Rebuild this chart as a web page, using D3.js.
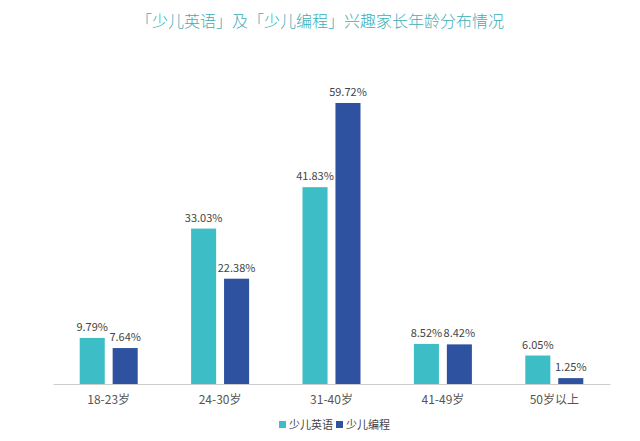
<!DOCTYPE html>
<html><head><meta charset="utf-8">
<script src="https://cdn.jsdelivr.net/npm/d3@7"></script>
<style>body{margin:0;background:#fff;font-family:"Noto Sans CJK SC","Noto Sans",sans-serif;}</style>
</head><body><div id="chart"></div>
<script>
// age groups and shares for the two interest groups
const categories = ["18-23岁", "24-30岁", "31-40岁", "41-49岁", "50岁以上"];
const english = [9.79, 33.03, 41.83, 8.52, 6.05];
const coding = [7.64, 22.38, 59.72, 8.42, 1.25];
const seriesNames = ["少儿英语", "少儿编程"];
const colors = ["#3dbdc6", "#2e52a0"];

const w = 640, h = 441;
const margin = {left: 53, right: 30, top: 103, bottom: 57};

const svg = d3.select("#chart").append("svg")
	.attr("width", w).attr("height", h);

// title
svg.append("text")
	.attr("x", w/2).attr("y", 27)
	.attr("text-anchor", "middle")
	.style("font-size", "16px")
	.style("font-weight", 300)
	.style("fill", "#3aaeb8")
	.text("「少儿英语」及「少儿编程」兴趣家长年龄分布情况");

const x = d3.scaleBand().domain(categories)
	.range([margin.left, w - margin.right]);
const bw = x.bandwidth();
const xs = d3.scaleBand().domain([0, 1])
	.range([bw/2 - 29, bw/2 + 29]).paddingInner(0.24).paddingOuter(0);
const y = d3.scaleLinear().domain([0, 59.72])
	.range([h - margin.bottom, margin.top]);

const rows = categories.map((c, i) => ({c, v: [english[i], coding[i]]}));

const g = svg.append("g").selectAll("g").data(rows).join("g")
	.attr("transform", d => `translate(${x(d.c)},0)`);

g.selectAll("rect").data(d => d.v).join("rect")
	.attr("x", (d, i) => xs(i))
	.attr("y", d => y(d))
	.attr("width", xs.bandwidth())
	.attr("height", d => y(0) - y(d))
	.attr("fill", (d, i) => colors[i]);

g.selectAll("text").data(d => d.v).join("text")
	.attr("x", (d, i) => xs(i) + xs.bandwidth()/2)
	.attr("y", d => y(d) - 7)
	.attr("text-anchor", "middle")
	.style("font-size", "11px")
	.style("fill", "#444")
	.text(d => d.toFixed(2) + "%");

// x axis
const xAxis = svg.append("g")
	.attr("transform", `translate(0,${y(0)})`)
	.call(d3.axisBottom(x).tickSize(0).tickPadding(11));
xAxis.select(".domain").attr("stroke", "#ccc");
xAxis.selectAll(".tick text").style("font-size", "12px").style("fill", "#555")
	.style("font-family", "'Noto Sans CJK SC',sans-serif");

// legend
const legend = svg.append("g").attr("transform", "translate(279,425)");
const items = legend.selectAll("g").data(seriesNames).join("g")
	.attr("transform", (d, i) => `translate(${i*57},0)`);
items.append("rect").attr("x", 0).attr("y", -4).attr("width", 7).attr("height", 7)
	.attr("fill", (d, i) => colors[i]);
items.append("text").attr("x", 10).attr("y", 4)
	.style("font-size", "11px").style("fill", "#444").text(d => d);
</script></body></html>
